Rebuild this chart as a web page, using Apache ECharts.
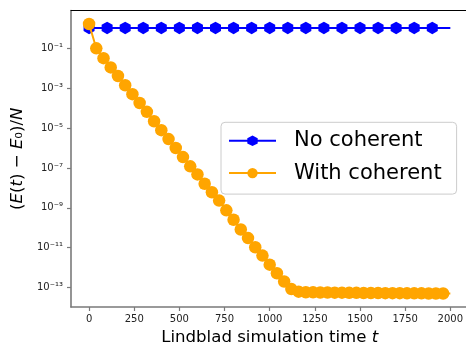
<!DOCTYPE html>
<html>
<head>
<meta charset="utf-8">
<style>
  html, body { margin: 0; padding: 0; background: #fff; }
  #chart { width: 466px; height: 346px; }
</style>
<script src="https://cdn.jsdelivr.net/npm/echarts@6/dist/echarts.min.js"></script>
</head>
<body>
<div id="chart"></div>
<script>
// Simulation times (t) and energy-error densities (E(t) - E0)/N
const timesNoCoherent = [0, 100, 200, 300, 400, 500, 600, 700, 800, 900, 1000,
  1100, 1200, 1300, 1400, 1500, 1600, 1700, 1800, 1900, 2000];
const valuesNoCoherent = [1.05, 1.05, 1.05, 1.05, 1.05, 1.05, 1.05, 1.05, 1.05, 1.05, 1.05,
  1.05, 1.05, 1.05, 1.05, 1.05, 1.05, 1.05, 1.05, 1.05, 1.05];

const timesWithCoherent = [0, 40, 80, 120, 160, 200, 240, 280, 320, 360, 400,
  440, 480, 520, 560, 600, 640, 680, 720, 760, 800,
  840, 880, 920, 960, 1000, 1040, 1080, 1120, 1160, 1200,
  1240, 1280, 1320, 1360, 1400, 1440, 1480, 1520, 1560, 1600,
  1640, 1680, 1720, 1760, 1800, 1840, 1880, 1920, 1960, 2000];
const valuesWithCoherent = [1.66, 1.0e-1, 3.2e-2, 1.1e-2, 4.1e-3, 1.4e-3, 5.0e-4, 1.8e-4, 6.5e-5, 2.2e-5, 7.8e-6,
  2.8e-6, 1.0e-6, 3.5e-7, 1.2e-7, 4.7e-8, 1.6e-8, 6.0e-9, 2.3e-9, 7.4e-10, 2.5e-10,
  8.1e-11, 3.0e-11, 1.05e-11, 4.0e-12, 1.4e-12, 5.2e-13, 2.0e-13, 8.3e-14, 6.2e-14, 5.8e-14,
  5.7e-14, 5.6e-14, 5.6e-14, 5.5e-14, 5.5e-14, 5.4e-14, 5.4e-14, 5.3e-14, 5.3e-14, 5.3e-14,
  5.2e-14, 5.2e-14, 5.2e-14, 5.1e-14, 5.1e-14, 5.1e-14, 5.0e-14, 5.0e-14, 5.0e-14, 5.0e-14];

const xTicks = [0, 250, 500, 750, 1000, 1250, 1500, 1750, 2000];
const yTicks = [1e-13, 1e-11, 1e-9, 1e-7, 1e-5, 1e-3, 1e-1];

const FONT = 'DejaVu Sans';
const SPINE = '#7a7a7a';
const SUP = { '-': '⁻', '0': '⁰', '1': '¹', '2': '²', '3': '³', '4': '⁴',
  '5': '⁵', '6': '⁶', '7': '⁷', '8': '⁸', '9': '⁹' };
function powLabel(v) {
  const e = String(Math.round(Math.log10(v)));
  return '10' + e.split('').map(c => SUP[c]).join('');
}

// pointy-top hexagon marker
const HEXAGON = 'path://M0,-1L0.866,-0.5L0.866,0.5L0,1L-0.866,0.5L-0.866,-0.5Z';

// markers on every point but the last, where the line just runs on to t = 2000
function withMarkers(xs, ys) {
  return xs.map((x, i) => (i === xs.length - 1)
    ? { value: [x, ys[i]], symbol: 'none' }
    : [x, ys[i]]);
}

const chart = echarts.init(document.getElementById('chart'), null, { renderer: 'canvas' });
chart.setOption({
  animation: false,
  backgroundColor: '#fff',
  textStyle: { fontFamily: FONT },
  grid: { left: 71, top: 10.5, right: -2.4, bottom: 39, containLabel: false, outerBoundsMode: 'none' },
  legend: {
    orient: 'vertical',
    left: 221,
    top: 122.3,
    padding: [6.5, 15, 9, 7],
    itemGap: 8.3,
    itemWidth: 47,
    itemHeight: 13,
    backgroundColor: 'rgba(255,255,255,0.8)',
    borderColor: '#cccccc',
    borderWidth: 1,
    borderRadius: 4,
    textStyle: { fontFamily: FONT, fontSize: 21, color: '#000', lineHeight: 24, padding: [0, 0, 0, 13] },
    data: ['No coherent', 'With coherent']
  },
  xAxis: [{
    type: 'value',
    min: -100,
    max: 2100,
    splitLine: { show: false },
    axisLine: { show: true, onZero: false, lineStyle: { color: SPINE, width: 1.6 } },
    axisTick: { show: true, length: 4, customValues: xTicks, lineStyle: { color: SPINE, width: 1.2 } },
    axisLabel: { customValues: xTicks, fontFamily: FONT, fontSize: 10, color: '#222', margin: 7,
      formatter: v => String(v) },
    name: 'Lindblad simulation time {i|t}',
    nameLocation: 'middle',
    nameGap: 12,
    nameTextStyle: {
      fontFamily: FONT, fontSize: 16.6, color: '#000', verticalAlign: 'top',
      rich: { i: { fontFamily: FONT, fontSize: 16.6, fontStyle: 'italic', color: '#000' } }
    }
  }, {
    type: 'value',
    position: 'top',
    min: -100,
    max: 2100,
    splitLine: { show: false },
    axisLine: { show: true, onZero: false, lineStyle: { color: '#000', width: 1 } },
    axisTick: { show: false },
    axisLabel: { show: false }
  }],
  yAxis: {
    type: 'log',
    logBase: 10,
    min: 1.05e-14,
    max: 7.9,
    splitLine: { show: false },
    axisLine: { show: true, onZero: false, lineStyle: { color: SPINE, width: 1.6 } },
    axisTick: { show: true, length: 4, customValues: yTicks, lineStyle: { color: SPINE, width: 1.2 } },
    axisLabel: { customValues: yTicks, fontFamily: FONT, fontSize: 10, color: '#222', margin: 8, formatter: powLabel },
    minorTick: { show: false },
    name: '({i|E}({i|t}) − {i|E}₀)/{i|N}',
    nameLocation: 'middle',
    nameGap: 43,
    nameRotate: 90,
    nameTextStyle: {
      fontFamily: FONT, fontSize: 16.6, color: '#000',
      rich: { i: { fontFamily: FONT, fontSize: 16.6, fontStyle: 'italic', color: '#000' } }
    }
  },
  series: [{
    name: 'No coherent',
    type: 'line',
    data: withMarkers(timesNoCoherent, valuesNoCoherent),
    symbol: HEXAGON,
    symbolSize: [11, 12.5],
    showAllSymbol: true,
    color: '#0000ff',
    lineStyle: { color: '#0000ff', width: 2 },
    itemStyle: { color: '#0000ff', borderWidth: 0 },
    z: 2
  }, {
    name: 'With coherent',
    type: 'line',
    data: withMarkers(timesWithCoherent, valuesWithCoherent),
    symbol: 'circle',
    symbolSize: 12.5,
    showAllSymbol: true,
    color: '#ffa500',
    lineStyle: { color: '#ffa500', width: 2 },
    itemStyle: { color: '#ffa500', borderWidth: 0 },
    z: 3
  }]
});
</script>
</body>
</html>
